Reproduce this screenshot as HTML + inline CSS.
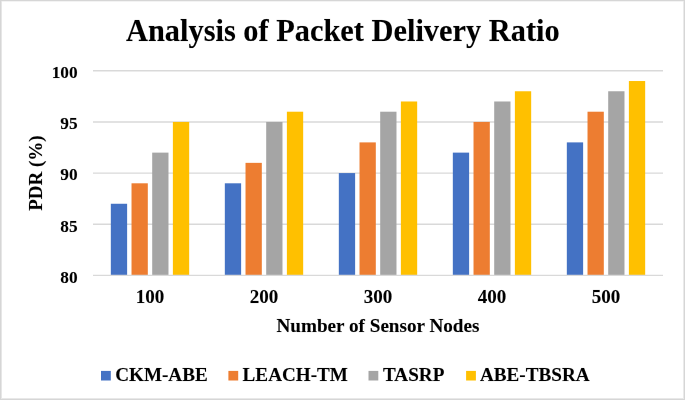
<!DOCTYPE html>
<html><head><meta charset="utf-8"><style>
html,body{margin:0;padding:0;background:#fff;}
body{width:685px;height:400px;overflow:hidden;position:relative;}
svg{position:absolute;left:0;top:0;will-change:transform;}
svg text{font-family:"Liberation Serif",serif;font-weight:bold;fill:#000;stroke:rgba(0,0,0,0.18);stroke-width:0.6px;paint-order:stroke;}
.frame{position:absolute;left:0;top:0;width:685px;height:400px;box-sizing:border-box;border:1px solid #d6d6d6;}
.fl{position:absolute;left:1px;top:1px;width:1px;height:397px;background:#e6e6e6;}
.ft{position:absolute;left:2px;top:1px;width:681px;height:1px;background:#f3f3f3;}
.fr{position:absolute;left:683px;top:1px;width:1px;height:398px;background:#eaeaea;}
.fb{position:absolute;left:1px;top:398px;width:682px;height:1px;background:#e8e8e8;}
</style></head><body>
<svg width="685" height="400" viewBox="0 0 685 400">
<line x1="93.0" x2="663.0" y1="70.80" y2="70.80" stroke="#d9d9d9" stroke-width="1.4"/>
<line x1="93.0" x2="663.0" y1="121.94" y2="121.94" stroke="#d9d9d9" stroke-width="1.4"/>
<line x1="93.0" x2="663.0" y1="173.08" y2="173.08" stroke="#d9d9d9" stroke-width="1.4"/>
<line x1="93.0" x2="663.0" y1="224.21" y2="224.21" stroke="#d9d9d9" stroke-width="1.4"/>
<rect x="110.83" y="203.76" width="16.29" height="71.59" fill="#4472C4"/>
<rect x="224.83" y="183.30" width="16.29" height="92.05" fill="#4472C4"/>
<rect x="338.83" y="173.08" width="16.29" height="102.28" fill="#4472C4"/>
<rect x="452.83" y="152.62" width="16.29" height="122.73" fill="#4472C4"/>
<rect x="566.83" y="142.39" width="16.29" height="132.96" fill="#4472C4"/>
<rect x="131.52" y="183.30" width="16.29" height="92.05" fill="#ED7D31"/>
<rect x="245.52" y="162.85" width="16.29" height="112.50" fill="#ED7D31"/>
<rect x="359.52" y="142.39" width="16.29" height="132.96" fill="#ED7D31"/>
<rect x="473.52" y="121.94" width="16.29" height="153.41" fill="#ED7D31"/>
<rect x="587.52" y="111.71" width="16.29" height="163.64" fill="#ED7D31"/>
<rect x="152.20" y="152.62" width="16.29" height="122.73" fill="#A5A5A5"/>
<rect x="266.20" y="121.94" width="16.29" height="153.41" fill="#A5A5A5"/>
<rect x="380.20" y="111.71" width="16.29" height="163.64" fill="#A5A5A5"/>
<rect x="494.20" y="101.48" width="16.29" height="173.87" fill="#A5A5A5"/>
<rect x="608.20" y="91.26" width="16.29" height="184.09" fill="#A5A5A5"/>
<rect x="172.88" y="121.94" width="16.29" height="153.41" fill="#FFC000"/>
<rect x="286.88" y="111.71" width="16.29" height="163.64" fill="#FFC000"/>
<rect x="400.88" y="101.48" width="16.29" height="173.87" fill="#FFC000"/>
<rect x="514.88" y="91.26" width="16.29" height="184.09" fill="#FFC000"/>
<rect x="628.88" y="81.03" width="16.29" height="194.32" fill="#FFC000"/>
<line x1="93.0" x2="663.0" y1="275.35" y2="275.35" stroke="#d9d9d9" stroke-width="1.4"/>
<text x="77.6" y="78.20" text-anchor="end" font-size="17.3">100</text>
<text x="77.6" y="129.34" text-anchor="end" font-size="17.3">95</text>
<text x="77.6" y="180.48" text-anchor="end" font-size="17.3">90</text>
<text x="77.6" y="231.61" text-anchor="end" font-size="17.3">85</text>
<text x="77.6" y="282.75" text-anchor="end" font-size="17.3">80</text>
<text x="150.00" y="303.4" text-anchor="middle" font-size="19">100</text>
<text x="264.00" y="303.4" text-anchor="middle" font-size="19">200</text>
<text x="378.00" y="303.4" text-anchor="middle" font-size="19">300</text>
<text x="492.00" y="303.4" text-anchor="middle" font-size="19">400</text>
<text x="606.00" y="303.4" text-anchor="middle" font-size="19">500</text>
<text x="342.85" y="40.7" text-anchor="middle" font-size="30.5" textLength="433.6" lengthAdjust="spacingAndGlyphs">Analysis of Packet Delivery Ratio</text>
<text x="378" y="331.7" text-anchor="middle" font-size="19.15">Number of Sensor Nodes</text>
<text transform="translate(41.6,173.1) rotate(-90)" x="0" y="0" text-anchor="middle" font-size="19">PDR (%)</text>
<rect x="101" y="370.9" width="9.8" height="9.6" fill="#4472C4"/>
<text x="115.2" y="380.6" font-size="19.15">CKM-ABE</text>
<rect x="228.4" y="370.9" width="9.8" height="9.6" fill="#ED7D31"/>
<text x="242.6" y="380.6" font-size="19.15">LEACH-TM</text>
<rect x="368.5" y="370.9" width="9.8" height="9.6" fill="#A5A5A5"/>
<text x="383.0" y="380.6" font-size="19.15">TASRP</text>
<rect x="466.1" y="370.9" width="9.8" height="9.6" fill="#FFC000"/>
<text x="480.0" y="380.6" font-size="19.15">ABE-TBSRA</text>
</svg>
<div class="frame"></div><div class="fl"></div><div class="ft"></div><div class="fr"></div><div class="fb"></div>
</body></html>
